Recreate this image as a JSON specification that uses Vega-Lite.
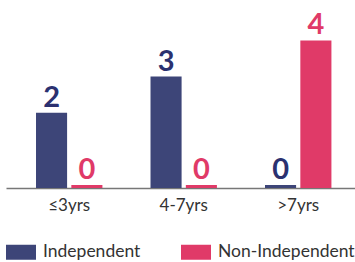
{
  "$schema": "https://vega.github.io/schema/vega-lite/v6.json",
  "width": 349,
  "height": 188,
  "padding": {"left": 6, "top": 0, "right": 0, "bottom": 0},
  "config": {"view": {"stroke": null}, "font": "Lato"},
  "data": {"values": [
    {"group": "≤3yrs", "type": "Independent", "value": 2},
    {"group": "≤3yrs", "type": "Non-Independent", "value": 0},
    {"group": "4-7yrs", "type": "Independent", "value": 3},
    {"group": "4-7yrs", "type": "Non-Independent", "value": 0},
    {"group": ">7yrs", "type": "Independent", "value": 0},
    {"group": ">7yrs", "type": "Non-Independent", "value": 4}
  ]},
  "encoding": {
    "x": {"field": "group", "type": "nominal", "sort": null,
      "scale": {"paddingInner": 0.42, "paddingOuter": 0.234, "align": 0.56},
      "axis": {"title": null, "labelAngle": 0, "ticks": false, "domainColor": "#777", "domainWidth": 1.5,
        "labelFontSize": 17, "labelColor": "#333", "labelPadding": 9, "labelFont": "Lato"}},
    "xOffset": {"field": "type", "type": "nominal", "scale": {"paddingInner": 0.12}},
    "y": {"field": "value", "type": "quantitative", "scale": {"domain": [0, 5.2], "nice": false}, "axis": null}
  },
  "layer": [
    {
      "mark": {"type": "bar", "yOffset": -3, "y2Offset": 0},
      "encoding": {
        "y2": {"datum": 0},
        "color": {"field": "type", "type": "nominal",
          "scale": {"domain": ["Independent", "Non-Independent"], "range": ["#3d4578", "#e03a68"]},
          "legend": {"title": null, "orient": "bottom", "direction": "horizontal", "offset": 24,
            "symbolType": "M-1,-0.5H1V0.5H-1Z", "symbolSize": 900, "symbolStrokeWidth": 0,
            "labelFontSize": 17.5, "labelColor": "#333", "labelOffset": 7, "columnPadding": 40,
            "labelFont": "Lato"}}
      }
    },
    {
      "mark": {"type": "text", "dy": -9, "baseline": "alphabetic", "fontSize": 29, "fontWeight": "bold", "font": "Lato"},
      "encoding": {
        "text": {"field": "value", "type": "quantitative"},
        "color": {"field": "type", "type": "nominal",
          "scale": {"domain": ["Independent", "Non-Independent"], "range": ["#2b3170", "#e03a68"]},
          "legend": null}
      }
    }
  ],
  "resolve": {"scale": {"color": "independent"}}
}
